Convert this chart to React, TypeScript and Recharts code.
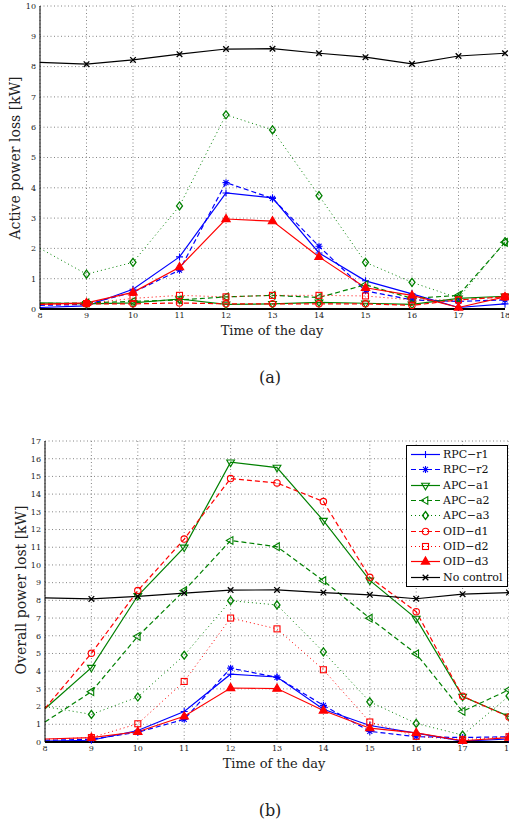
import React from 'react';
import { LineChart, Line, XAxis, YAxis, CartesianGrid } from 'recharts';

const hours = [8, 9, 10, 11, 12, 13, 14, 15, 16, 17, 18];

// (a) active power loss [kW]
const lossR1 = [0.05, 0.1, 0.65, 1.72, 3.83, 3.67, 1.85, 0.93, 0.5, 0.05, 0.17];
const lossR2 = [0.12, 0.15, 0.55, 1.28, 4.17, 3.65, 2.07, 0.6, 0.3, 0.25, 0.3];
const lossA1 = [0.2, 0.17, 0.2, 0.33, 0.15, 0.17, 0.22, 0.19, 0.15, 0.35, 0.42];
const lossA2 = [0.18, 0.2, 0.25, 0.3, 0.4, 0.45, 0.38, 0.8, 0.35, 0.45, 2.2];
const lossA3 = [2.0, 1.15, 1.54, 3.4, 6.41, 5.91, 3.74, 1.54, 0.88, 0.36, 2.22];
const lossD1 = [0.15, 0.17, 0.17, 0.2, 0.17, 0.17, 0.17, 0.17, 0.12, 0.3, 0.4];
const lossD2 = [0.15, 0.18, 0.35, 0.45, 0.4, 0.45, 0.45, 0.43, 0.3, 0.3, 0.4];
const lossD3 = [0.15, 0.2, 0.55, 1.38, 2.97, 2.9, 1.72, 0.7, 0.45, 0.05, 0.4];
const lossNC = [8.14, 8.08, 8.22, 8.41, 8.58, 8.59, 8.44, 8.31, 8.09, 8.35, 8.44];

// (b) overall power lost [kW]
const lostR1 = [0.05, 0.1, 0.65, 1.72, 3.83, 3.67, 1.85, 0.93, 0.5, 0.05, 0.17];
const lostR2 = [0.1, 0.15, 0.55, 1.28, 4.17, 3.65, 2.07, 0.6, 0.3, 0.25, 0.3];
const lostA1 = [1.88, 4.2, 8.26, 10.99, 15.8, 15.5, 12.5, 9.13, 6.97, 2.57, 1.45];
const lostA2 = [1.13, 2.84, 5.97, 8.55, 11.38, 11.03, 9.11, 6.99, 4.98, 1.73, 2.95];
const lostA3 = [2.0, 1.56, 2.54, 4.9, 7.98, 7.74, 5.09, 2.27, 1.05, 0.39, 2.6];
const lostD1 = [1.9, 5.01, 8.55, 11.46, 14.88, 14.63, 13.58, 9.3, 7.36, 2.59, 1.41];
const lostD2 = [0.15, 0.25, 1.03, 3.42, 7.0, 6.39, 4.08, 1.13, 0.32, 0.13, 0.3];
const lostD3 = [0.17, 0.25, 0.58, 1.45, 3.05, 3.02, 1.78, 0.78, 0.52, 0.07, 0.25];
const lostNC = [8.14, 8.08, 8.22, 8.41, 8.58, 8.59, 8.44, 8.31, 8.09, 8.35, 8.44];

const ticksA = [0, 1, 2, 3, 4, 5, 6, 7, 8, 9, 10];
const ticksB = [0, 1, 2, 3, 4, 5, 6, 7, 8, 9, 10, 11, 12, 13, 14, 15, 16, 17];

const BLUE = '#0000ff';
const GREEN = '#008000';
const RED = '#ff0000';
const FONT = '"DejaVu Serif", serif';

const SERIES = [
  { key: 'r1', name: 'RPC\u2212r1', color: BLUE, dash: undefined, marker: 'plus' },
  { key: 'r2', name: 'RPC\u2212r2', color: BLUE, dash: '5 3', marker: 'star' },
  { key: 'a1', name: 'APC\u2212a1', color: GREEN, dash: undefined, marker: 'triDown' },
  { key: 'a2', name: 'APC\u2212a2', color: GREEN, dash: '5 3', marker: 'triLeft' },
  { key: 'a3', name: 'APC\u2212a3', color: GREEN, dash: '1 3', marker: 'diamond' },
  { key: 'd1', name: 'OID\u2212d1', color: RED, dash: '5 3', marker: 'circle' },
  { key: 'd2', name: 'OID\u2212d2', color: RED, dash: '1 3', marker: 'square' },
  { key: 'd3', name: 'OID\u2212d3', color: RED, dash: undefined, marker: 'triUp' },
  { key: 'nc', name: 'No control', color: '#000000', dash: undefined, marker: 'x' },
];

const rowsA = hours.map((h, i) => ({
  hour: h, r1: lossR1[i], r2: lossR2[i], a1: lossA1[i], a2: lossA2[i], a3: lossA3[i],
  d1: lossD1[i], d2: lossD2[i], d3: lossD3[i], nc: lossNC[i],
}));
const rowsB = hours.map((h, i) => ({
  hour: h, r1: lostR1[i], r2: lostR2[i], a1: lostA1[i], a2: lostA2[i], a3: lostA3[i],
  d1: lostD1[i], d2: lostD2[i], d3: lostD3[i], nc: lostNC[i],
}));

function Marker({ type, cx, cy, color }: { type: string; cx: number; cy: number; color: string }) {
  const p = { stroke: color, strokeWidth: 1.1, fill: 'none' };
  const s = 3.5;
  switch (type) {
    case 'plus':
      return <path d={`M${cx - s} ${cy}H${cx + s}M${cx} ${cy - s}V${cy + s}`} {...p} />;
    case 'star': {
      const d = s * 0.72;
      return (
        <path
          d={`M${cx - s} ${cy}H${cx + s}M${cx} ${cy - s}V${cy + s}M${cx - d} ${cy - d}L${cx + d} ${cy + d}M${cx - d} ${cy + d}L${cx + d} ${cy - d}`}
          {...p}
        />
      );
    }
    case 'x': {
      const d = 2.8;
      return <path d={`M${cx - d} ${cy - d}L${cx + d} ${cy + d}M${cx - d} ${cy + d}L${cx + d} ${cy - d}`} {...p} strokeWidth={1.3} />;
    }
    case 'triDown':
      return <polygon points={`${cx - 3.9},${cy - 2.3} ${cx + 3.9},${cy - 2.3} ${cx},${cy + 4.3}`} {...p} />;
    case 'triLeft':
      return <polygon points={`${cx - 4.3},${cy} ${cx + 2.3},${cy - 3.9} ${cx + 2.3},${cy + 3.9}`} {...p} />;
    case 'triUp':
      return <polygon points={`${cx},${cy - 4.6} ${cx - 4.2},${cy + 2.6} ${cx + 4.2},${cy + 2.6}`} {...p} fill={color} />;
    case 'diamond':
      return <polygon points={`${cx},${cy - 4} ${cx + 3},${cy} ${cx},${cy + 4} ${cx - 3},${cy}`} {...p} strokeWidth={1.3} />;
    case 'circle':
      return <circle cx={cx} cy={cy} r={3.2} {...p} />;
    case 'square':
      return <rect x={cx - 3} y={cy - 3} width={6} height={6} {...p} />;
    default:
      return null;
  }
}

function makeDot(type: string, color: string) {
  return (props: any) => {
    const { cx, cy, index, key } = props;
    if (index === 0 || cx == null || cy == null) return <g key={key ?? `e${index}`} />;
    return (
      <g key={key ?? `m${index}`}>
        <Marker type={type} cx={cx} cy={cy} color={color} />
      </g>
    );
  };
}

const tickStyle = { fontSize: 8, fontFamily: FONT, fill: '#222' };

function Panel({ rows, yMax, yTicks, yWidth, marginTop, marginRight, xHeight }: any) {
  return (
    <LineChart
      width={509}
      height={330}
      data={rows}
      margin={{ top: marginTop, right: marginRight, bottom: 0, left: 0 }}
    >
      <CartesianGrid stroke="#666" strokeDasharray="1 2.5" strokeWidth={0.8} />
      <XAxis
        dataKey="hour"
        type="number"
        domain={[8, 18]}
        ticks={hours}
        height={xHeight}
        tickLine={false}
        tickSize={2}
        tickMargin={1}
        axisLine={{ stroke: '#000', strokeWidth: 2 }}
        tick={tickStyle}
        interval={0}
      />
      <XAxis
        xAxisId="top"
        orientation="top"
        dataKey="hour"
        type="number"
        domain={[8, 18]}
        ticks={hours}
        height={0}
        tick={false}
        tickLine={false}
        axisLine={{ stroke: '#000', strokeWidth: 1 }}
      />
      <YAxis
        type="number"
        domain={[0, yMax]}
        ticks={yTicks}
        width={yWidth}
        tickLine={false}
        tickSize={2}
        tickMargin={2}
        axisLine={{ stroke: '#000', strokeWidth: 1 }}
        tick={tickStyle}
        interval={0}
      />
      <YAxis
        yAxisId="right"
        orientation="right"
        type="number"
        domain={[0, yMax]}
        ticks={yTicks}
        width={0}
        tick={false}
        tickLine={false}
        axisLine={{ stroke: '#000', strokeWidth: 1 }}
      />
      {SERIES.map((s) => (
        <Line
          key={s.key}
          dataKey={s.key}
          name={s.name}
          type="linear"
          stroke={s.color}
          strokeWidth={s.dash === '1 3' ? 1 : 1.2}
          strokeDasharray={s.dash}
          dot={makeDot(s.marker, s.color)}
          activeDot={false}
          isAnimationActive={false}
        />
      ))}
    </LineChart>
  );
}

function LegendBox() {
  return (
    <div
      style={{
        position: 'absolute', left: 406, top: 445, width: 100, height: 139,
        border: '1px solid #000', background: '#fff', paddingTop: 1,
      }}
    >
      {SERIES.map((s) => (
        <div key={s.key} style={{ display: 'flex', alignItems: 'center', height: 15.3 }}>
          <svg width={36} height={15} style={{ flex: 'none' }}>
            <line x1={4} y1={7.5} x2={33} y2={7.5} stroke={s.color} strokeWidth={s.dash === '1 3' ? 1 : 1.2} strokeDasharray={s.dash} />
            <Marker type={s.marker} cx={18.5} cy={7.5} color={s.color} />
          </svg>
          <span style={{ fontFamily: FONT, fontSize: 11, lineHeight: '15px', color: '#111', whiteSpace: 'nowrap' }}>
            {s.name}
          </span>
        </div>
      ))}
    </div>
  );
}

const textStyle: React.CSSProperties = { position: 'absolute', fontFamily: FONT, color: '#222', whiteSpace: 'nowrap' };

export default function App() {
  return (
    <div style={{ position: 'absolute', left: 0, top: 0, width: 509, height: 823, background: '#fff', overflow: 'hidden' }}>
      <div style={{ position: 'absolute', left: 0, top: 0 }}>
        <Panel rows={rowsA} yMax={10} yTicks={ticksA} yWidth={40} marginTop={6} marginRight={4} xHeight={21} />
      </div>
      <div style={{ ...textStyle, left: 15, top: 158, fontSize: 14, transform: 'translate(-50%, -50%) rotate(-90deg)' }}>
        Active power loss [kW]
      </div>
      <div style={{ ...textStyle, left: 272, top: 330, fontSize: 13, transform: 'translate(-50%, -50%)' }}>Time of the day</div>
      <div style={{ ...textStyle, left: 270, top: 377, fontSize: 16, transform: 'translate(-50%, -50%)' }}>(a)</div>

      <div style={{ position: 'absolute', left: 0, top: 430 }}>
        <Panel rows={rowsB} yMax={17} yTicks={ticksB} yWidth={45} marginTop={11} marginRight={0} xHeight={18} />
      </div>
      <LegendBox />
      <div style={{ ...textStyle, left: 21, top: 590, fontSize: 14, transform: 'translate(-50%, -50%) rotate(-90deg)' }}>
        Overall power lost [kW]
      </div>
      <div style={{ ...textStyle, left: 274, top: 763, fontSize: 13, transform: 'translate(-50%, -50%)' }}>Time of the day</div>
      <div style={{ ...textStyle, left: 270, top: 810, fontSize: 16, transform: 'translate(-50%, -50%)' }}>(b)</div>
    </div>
  );
}
